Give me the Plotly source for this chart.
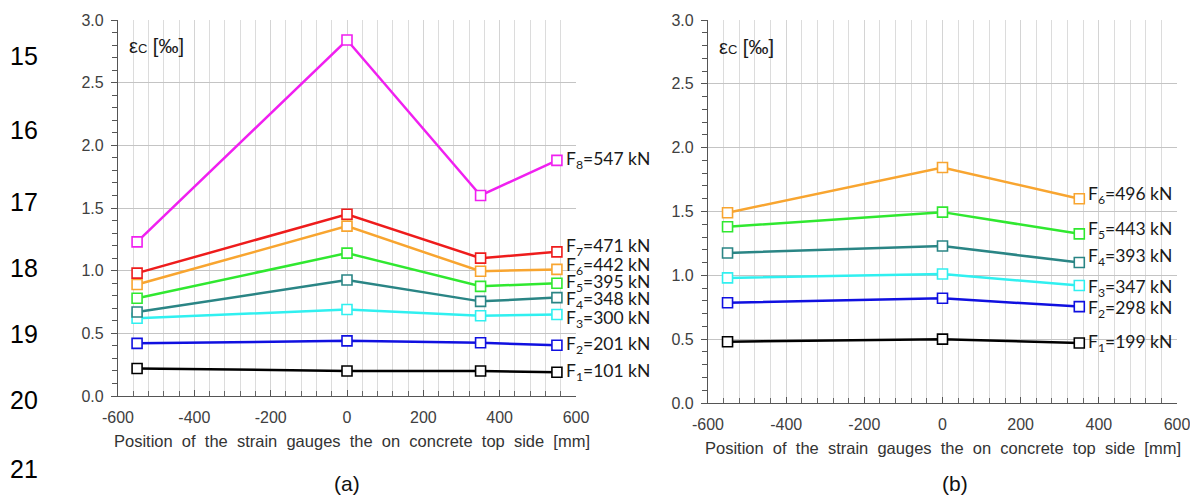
import plotly.graph_objects as go

# ---------------- data ----------------
x_a = [-550, 0, 350, 550]
a_F1 = [0.22, 0.20, 0.20, 0.19]
a_F2 = [0.42, 0.44, 0.425, 0.405]
a_F3 = [0.62, 0.69, 0.64, 0.65]
a_F4 = [0.67, 0.925, 0.755, 0.785]
a_F5 = [0.78, 1.14, 0.875, 0.90]
a_F6 = [0.89, 1.355, 0.995, 1.01]
a_F7 = [0.98, 1.45, 1.10, 1.15]
a_F8 = [1.23, 2.84, 1.60, 1.88]
a_series = [a_F1, a_F2, a_F3, a_F4, a_F5, a_F6, a_F7, a_F8]
a_loads = ["101", "201", "300", "348", "395", "442", "471", "547"]

x_b = [-550, 0, 350]
b_F1 = [0.48, 0.50, 0.47]
b_F2 = [0.785, 0.82, 0.755]
b_F3 = [0.98, 1.01, 0.92]
b_F4 = [1.175, 1.23, 1.10]
b_F5 = [1.38, 1.495, 1.325]
b_F6 = [1.49, 1.845, 1.60]
b_series = [b_F1, b_F2, b_F3, b_F4, b_F5, b_F6]
b_loads = ["199", "298", "347", "393", "443", "496"]

x_ticks = [-600, -400, -200, 0, 200, 400, 600]
y_ticks = [0.0, 0.5, 1.0, 1.5, 2.0, 2.5, 3.0]
line_numbers = ["15", "16", "17", "18", "19", "20", "21"]
x_title_words = ["Position", "of", "the", "strain", "gauges", "the", "on",
                 "concrete", "top", "side", "[mm]"]

# ---------------- styles ----------------
colors = ["#000000", "#1010e0", "#30f0f0", "#2a8585", "#30e830",
          "#f8a530", "#ee1c1c", "#f020f0"]
a_label_nudge = [0, 0, -4, -2, 0, 3, 5, 0]
b_label_nudge = [0, -2, -2, 6, 4, 4]
x_title = "&nbsp; ".join(x_title_words)

# page body has an 8px default margin: compensate so the figure sits at the window's corner
OFF = 8
W, H = 1198 - 2 * OFF, 504 - 2 * OFF
def px_x(p):
    return (p - OFF) / W
def px_y(p):
    return 1 - (p - OFF) / H

fig = go.Figure()

def add_panel(xs, series, loads, nudges, xa, ya):
    for i, ys in enumerate(series):
        c = colors[i]
        fig.add_trace(go.Scatter(
            x=xs, y=ys, mode="lines+markers", xaxis=xa, yaxis=ya,
            line=dict(color=c, width=2.5),
            marker=dict(symbol="square", size=10, color="white",
                        line=dict(color=c, width=1.6)),
            showlegend=False, hoverinfo="x+y"))
        fig.add_annotation(
            x=xs[-1], y=ys[-1], xref=xa, yref=ya,
            text=f"F<sub>{i+1}</sub>={loads[i]} kN",
            showarrow=False, xanchor="left", yanchor="middle",
            xshift=7, yshift=nudges[i],
            font=dict(family="Lato, Carlito, Arial", size=17.5, color="#1a1a1a"))

add_panel(x_a, a_series, a_loads, a_label_nudge, "x", "y")
add_panel(x_b, b_series, b_loads, b_label_nudge, "x2", "y2")

tickfont = dict(family="Liberation Sans, Arial", size=16, color="#404040")

def xaxis_cfg(domain, anchor):
    return dict(
        domain=domain, anchor=anchor, range=[-600, 600], automargin=False,
        tickvals=x_ticks, ticktext=[str(v) for v in x_ticks],
        showgrid=True, gridcolor="#d4d4d4", gridwidth=1,
        showline=True, linecolor="#555555", linewidth=1.2,
        ticks="inside", ticklen=6, tickcolor="#555555",
        minor=dict(dtick=40, tick0=-600, showgrid=True, gridcolor="#dcdcdc",
                   ticks="inside", ticklen=5, tickcolor="#666666"),
        tickfont=tickfont, zeroline=False, mirror=False,
        ticklabelstandoff=7, ticklabeloverflow="allow",
        fixedrange=True)

def yaxis_cfg(domain, anchor):
    return dict(
        domain=domain, anchor=anchor, range=[0, 3.0], automargin=False,
        tickvals=y_ticks, tickformat=".1f",
        showgrid=True, gridcolor="#c4c4c4", gridwidth=1,
        showline=True, linecolor="#555555", linewidth=1.2,
        ticks="outside", ticklen=6, tickcolor="#555555",
        minor=dict(dtick=0.1, tick0=0, showgrid=False,
                   ticks="outside", ticklen=5, tickcolor="#555555"),
        tickfont=tickfont, zeroline=False, ticklabelstandoff=4,
        ticklabeloverflow="allow",
        fixedrange=True)

fig.update_layout(
    width=W, height=H,
    margin=dict(l=0, r=0, t=0, b=0, autoexpand=False),
    paper_bgcolor="white", plot_bgcolor="white",
    xaxis=xaxis_cfg([px_x(118), px_x(576)], "y"),
    yaxis=yaxis_cfg([px_y(396), px_y(20)], "x"),
    xaxis2=xaxis_cfg([px_x(708), px_x(1177)], "y2"),
    yaxis2=yaxis_cfg([px_y(403), px_y(20)], "x2"),
)

# epsilon labels inside plots and x-axis titles
eps_text = "ε<span style='font-size:13px'>C</span> [‰]"
for xa, ya, ty, dx in [("x domain", "y domain", 441, 5), ("x2 domain", "y2 domain", 448, 0)]:
    fig.add_annotation(x=0.02, y=0.93, xref=xa, yref=ya, text=eps_text,
                       showarrow=False, xanchor="left", yanchor="middle",
                       font=dict(family="Liberation Sans, Arial", size=20, color="#1a1a1a"))
    fig.add_annotation(x=0.5, y=px_y(ty), xref=xa, yref="paper", text=x_title,
                       showarrow=False, xanchor="center", yanchor="middle", xshift=dx,
                       font=dict(family="Liberation Sans, Arial", size=16.5, color="#333333"))

# captions
for cx, cap in [(347, "(a)"), (955, "(b)")]:
    fig.add_annotation(x=px_x(cx), y=px_y(483), xref="paper", yref="paper", text=cap,
                       showarrow=False, xanchor="center", yanchor="middle",
                       font=dict(family="Liberation Sans, Arial", size=21, color="#111111"))

# document line numbers
line_y = [56, 130, 202, 268, 334, 400, 469]
for t, yy in zip(line_numbers, line_y):
    fig.add_annotation(x=px_x(24), y=px_y(yy), xref="paper", yref="paper", text=t,
                       showarrow=False, xanchor="center", yanchor="middle",
                       font=dict(family="Liberation Sans, Arial", size=25, color="#000000"))

fig.write_html("out.html")
